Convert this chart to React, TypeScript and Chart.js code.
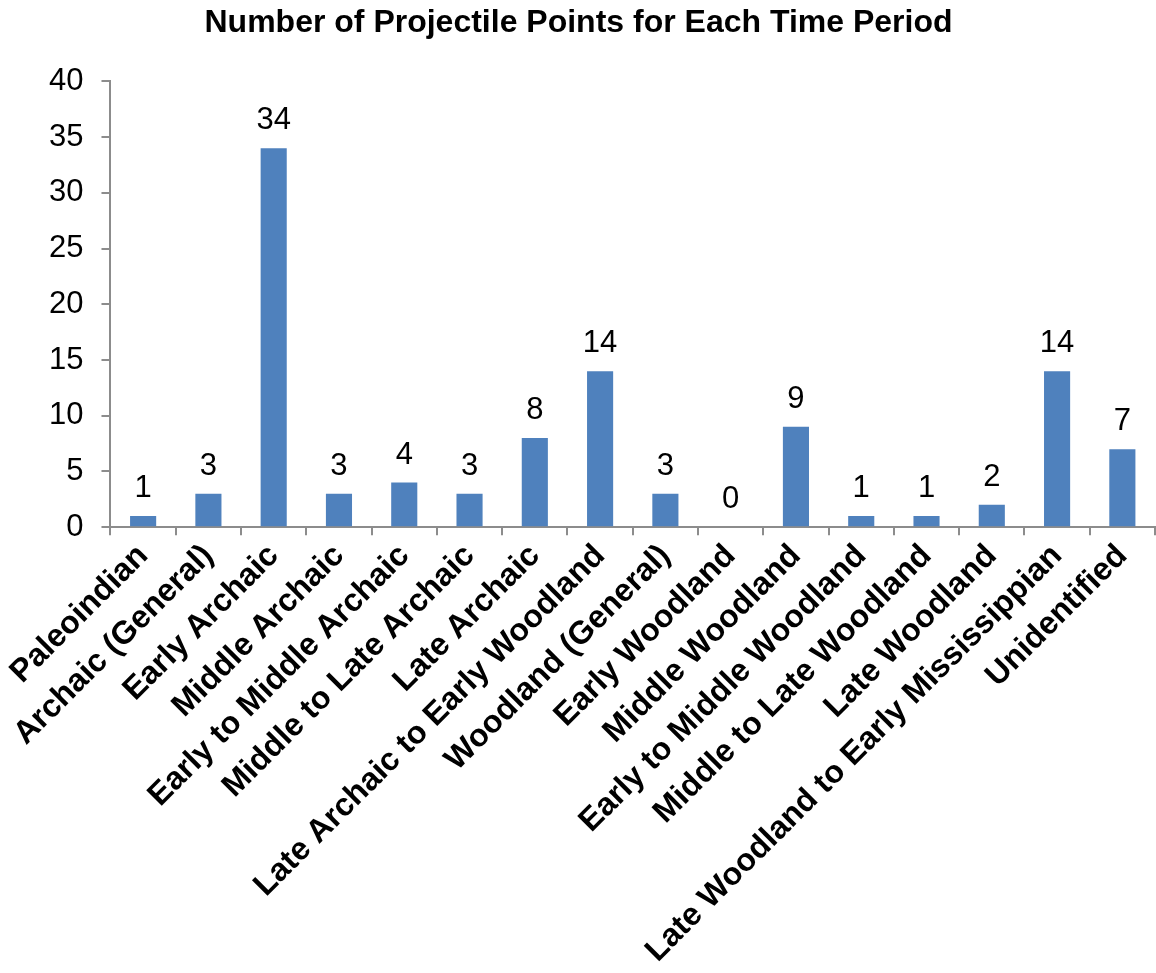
import React, { useEffect, useRef } from "react";
import { Chart, registerables } from "chart.js";

Chart.register(...registerables);

const categories = [
  "Paleoindian",
  "Archaic (General)",
  "Early Archaic",
  "Middle Archaic",
  "Early to Middle Archaic",
  "Middle to Late Archaic",
  "Late Archaic",
  "Late Archaic to Early Woodland",
  "Woodland (General)",
  "Early Woodland",
  "Middle Woodland",
  "Early to Middle Woodland",
  "Middle to Late Woodland",
  "Late Woodland",
  "Late Woodland to Early Mississippian",
  "Unidentified",
];

const counts = [1, 3, 34, 3, 4, 3, 8, 14, 3, 0, 9, 1, 1, 2, 14, 7];

const titleText = "Number of Projectile Points for Each Time Period";
const FONT = "'Liberation Sans', Arial, Helvetica, sans-serif";

const dataLabels = {
  id: "dataLabels",
  afterDatasetsDraw(chart: any) {
    const ctx = chart.ctx;
    const meta = chart.getDatasetMeta(0);
    ctx.save();
    ctx.font = `31px ${FONT}`;
    ctx.fillStyle = "#000";
    ctx.textAlign = "center";
    ctx.textBaseline = "bottom";
    meta.data.forEach((bar: any, i: number) => {
      ctx.fillText(String(counts[i]), bar.x, bar.y - 12);
    });
    ctx.restore();
  },
};

export default function App() {
  const ref = useRef<HTMLCanvasElement | null>(null);
  useEffect(() => {
    if (!ref.current) return;
    const chart = new Chart(ref.current, {
      type: "bar",
      data: {
        labels: categories,
        datasets: [
          {
            data: counts,
            backgroundColor: "#4F81BD",
            borderWidth: 0,
            barPercentage: 0.4,
            categoryPercentage: 1,
          },
        ],
      },
      options: {
        animation: false,
        responsive: false,
        maintainAspectRatio: false,
        layout: { padding: { left: 2, right: 1, top: 0, bottom: 1 } },
        plugins: {
          legend: { display: false },
          tooltip: { enabled: false },
          title: {
            display: true,
            text: titleText,
            color: "#000",
            font: { family: FONT, size: 32, weight: "bold" },
            padding: { top: 4, bottom: 39 },
          },
        },
        scales: {
          x: {
            border: { display: true, color: "#8c8c8c", width: 2 },
            grid: {
              display: true,
              drawOnChartArea: false,
              drawTicks: true,
              tickLength: 8,
              color: "#8c8c8c",
              lineWidth: 2,
              offset: true,
            },
            ticks: {
              minRotation: 45,
              maxRotation: 45,
              autoSkip: false,
              color: "#000",
              padding: 2,
              font: { family: FONT, size: 32, weight: "bold" },
            },
          },
          y: {
            min: 0,
            max: 40,
            border: { display: true, color: "#8c8c8c", width: 2 },
            grid: {
              display: true,
              drawOnChartArea: false,
              drawTicks: true,
              tickLength: 9,
              color: "#8c8c8c",
              lineWidth: 2,
            },
            afterFit(scale: any) {
              scale.width += 29;
            },
            ticks: {
              stepSize: 5,
              color: "#000",
              padding: 18,
              font: { family: FONT, size: 31 },
            },
          },
        },
      },
      plugins: [dataLabels],
    });
    return () => chart.destroy();
  }, []);
  return (
    <div style={{ position: "absolute", left: 0, top: 0, width: 1156, height: 973, background: "#fff" }}>
      <canvas ref={ref} width={1156} height={973} style={{ display: "block", width: 1156, height: 973 }} />
    </div>
  );
}
